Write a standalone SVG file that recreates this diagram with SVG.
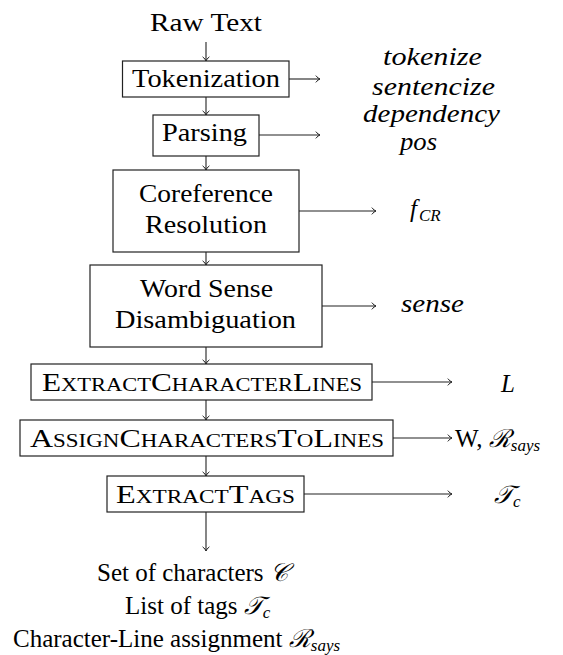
<svg xmlns="http://www.w3.org/2000/svg" width="563" height="655" viewBox="0 0 563 655">
  <style>
    text { font-family: "Liberation Serif", "DejaVu Serif", serif; font-size: 25px; fill: #000; }
    .box { fill: #fff; stroke: #222; stroke-width: 1.2; }
    .it { font-style: italic; }
    .sc { font-variant: small-caps; }
    .cal { font-style: italic; }
    .sub { font-size: 17px; font-style: italic; }
    .edge { fill: none; stroke: #222; stroke-width: 1.1; }
  </style>
  <defs>
    <marker id="to" viewBox="-6 -5 7 10" refX="0" refY="0" markerWidth="7" markerHeight="10" markerUnits="userSpaceOnUse" orient="auto">
      <path d="M -4.2,-3.4 C -2.6,-1.4 -1.2,-0.5 0,0 C -1.2,0.5 -2.6,1.4 -4.2,3.4" fill="none" stroke="#222" stroke-width="1"/>
    </marker>
  </defs>

  <!-- pipeline connectors -->
  <g id="connectors" class="edge" marker-end="url(#to)">
    <line x1="206" y1="42" x2="206" y2="61"/>
    <line x1="206" y1="97" x2="206" y2="115"/>
    <line x1="206" y1="156" x2="206" y2="170"/>
    <line x1="206" y1="252" x2="206" y2="265"/>
    <line x1="206" y1="347" x2="206" y2="364"/>
    <line x1="206" y1="400" x2="206" y2="420"/>
    <line x1="206" y1="456" x2="206" y2="476"/>
    <line x1="206" y1="512" x2="206" y2="551"/>
    <!-- outputs of each stage -->
    <line x1="289" y1="79" x2="320" y2="79"/>
    <line x1="259" y1="135" x2="320" y2="135"/>
    <line x1="299" y1="211" x2="376" y2="211"/>
    <line x1="322" y1="306" x2="376" y2="306"/>
    <line x1="372" y1="382" x2="452" y2="382"/>
    <line x1="393" y1="438" x2="452" y2="438"/>
    <line x1="304" y1="494" x2="452" y2="494"/>
  </g>

  <g id="raw-text">
    <text x="150" y="31" textLength="112" lengthAdjust="spacingAndGlyphs">Raw Text</text>
  </g>

  <g id="tokenization">
    <rect class="box" x="122.5" y="61" width="166.5" height="36"/>
    <text x="132" y="87" textLength="148" lengthAdjust="spacingAndGlyphs">Tokenization</text>
  </g>

  <g id="parsing">
    <rect class="box" x="153" y="115" width="106" height="41"/>
    <text x="162" y="141" textLength="85" lengthAdjust="spacingAndGlyphs">Parsing</text>
  </g>

  <g id="coreference">
    <rect class="box" x="113" y="170" width="186" height="82"/>
    <text x="139" y="202" textLength="134" lengthAdjust="spacingAndGlyphs">Coreference</text>
    <text x="145" y="233" textLength="122" lengthAdjust="spacingAndGlyphs">Resolution</text>
  </g>

  <g id="wsd">
    <rect class="box" x="90" y="265" width="232" height="82"/>
    <text x="140" y="297" textLength="133" lengthAdjust="spacingAndGlyphs">Word Sense</text>
    <text x="115" y="328" textLength="181" lengthAdjust="spacingAndGlyphs">Disambiguation</text>
  </g>

  <g id="extract-character-lines">
    <rect class="box" x="31" y="364" width="341" height="36"/>
    <text class="sc" x="42" y="391" textLength="320" lengthAdjust="spacingAndGlyphs">ExtractCharacterLines</text>
  </g>

  <g id="assign-characters-to-lines">
    <rect class="box" x="20" y="420" width="373" height="36"/>
    <text class="sc" x="30" y="447" textLength="354" lengthAdjust="spacingAndGlyphs">AssignCharactersToLines</text>
  </g>

  <g id="extract-tags">
    <rect class="box" x="107" y="476" width="197" height="36"/>
    <text class="sc" x="116" y="503" textLength="179" lengthAdjust="spacingAndGlyphs">ExtractTags</text>
  </g>

  <!-- stage outputs -->
  <g id="out-tokenize">
    <text class="it" x="383" y="65" textLength="99" lengthAdjust="spacingAndGlyphs">tokenize</text>
    <text class="it" x="372" y="95" textLength="123" lengthAdjust="spacingAndGlyphs">sentencize</text>
    <text class="it" x="363" y="122" textLength="137" lengthAdjust="spacingAndGlyphs">dependency</text>
    <text class="it" x="400" y="150" textLength="37" lengthAdjust="spacingAndGlyphs">pos</text>
  </g>

  <g id="out-coref">
    <text class="it" x="410" y="217">f<tspan class="sub" dx="2" dy="4">CR</tspan></text>
  </g>

  <g id="out-sense">
    <text class="it" x="401" y="312" textLength="63" lengthAdjust="spacingAndGlyphs">sense</text>
  </g>

  <g id="out-lines">
    <text class="it" x="501" y="392">L</text>
  </g>

  <g id="out-says">
    <text x="455" y="447">W, <tspan class="cal">ℛ</tspan><tspan class="sub" dy="4">says</tspan></text>
  </g>

  <g id="out-tags">
    <text class="cal" x="494" y="503">𝒯<tspan class="sub" dy="4">c</tspan></text>
  </g>

  <g id="result">
    <text x="97" y="581">Set of characters <tspan class="cal">𝒞</tspan></text>
    <text x="125" y="614">List of tags <tspan class="cal">𝒯</tspan><tspan class="sub" dy="4">c</tspan></text>
    <text x="13" y="647">Character-Line assignment <tspan class="cal">ℛ</tspan><tspan class="sub" dy="4">says</tspan></text>
  </g>
</svg>
